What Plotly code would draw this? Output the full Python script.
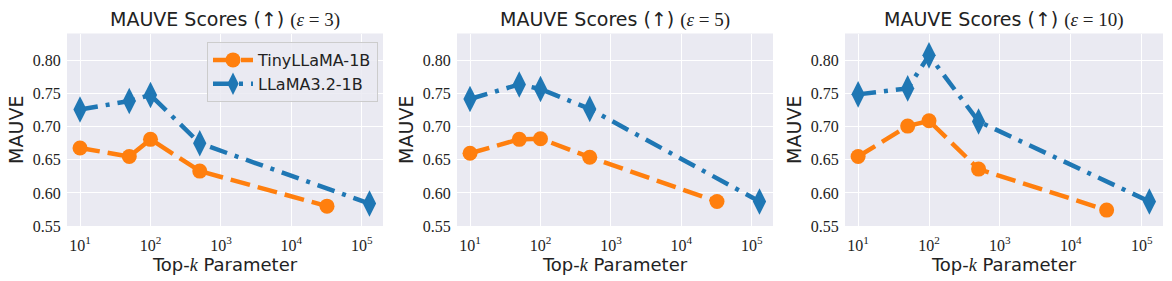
import plotly.graph_objects as go

# ---- data ----
eps_values = [3, 5, 10]
k_tiny = [10, 50, 100, 500, 32000]
k_llama = [10, 50, 100, 500, 128256]

tiny_eps3 = [0.668, 0.655, 0.681, 0.633, 0.580]
llama_eps3 = [0.726, 0.739, 0.748, 0.675, 0.584]
tiny_eps5 = [0.660, 0.681, 0.682, 0.654, 0.587]
llama_eps5 = [0.742, 0.764, 0.757, 0.727, 0.587]
tiny_eps10 = [0.655, 0.701, 0.709, 0.636, 0.574]
llama_eps10 = [0.749, 0.758, 0.808, 0.708, 0.587]

tiny_series = [tiny_eps3, tiny_eps5, tiny_eps10]
llama_series = [llama_eps3, llama_eps5, llama_eps10]

xtick_vals = [10, 100, 1000, 10000, 100000]
xtick_text = ["10<sup>1</sup>", "10<sup>2</sup>", "10<sup>3</sup>", "10<sup>4</sup>", "10<sup>5</sup>"]
ytick_vals = [0.55, 0.60, 0.65, 0.70, 0.75, 0.80]

# ---- style ----
W, H = 1172, 281
ORANGE = "#ff7f0e"
BLUE = "#1f77b4"
BG = "#eaeaf2"
SANS = "DejaVu Sans"
SERIF = "Liberation Serif"

x_px = [(67, 383), (457, 773), (845, 1163)]
y_dom = [(H - 226) / H, (H - 33.5) / H]

fig = go.Figure()
annotations = []
for i in range(3):
    n = "" if i == 0 else str(i + 1)
    fig.add_trace(go.Scatter(
        x=k_tiny, y=tiny_series[i], mode="lines+markers",
        name="TinyLLaMA-1B", legendgroup="tiny", showlegend=(i == 0),
        line=dict(color=ORANGE, width=4.5, dash="20px,8px"),
        marker=dict(symbol="circle", size=15, color=ORANGE),
        xaxis="x" + n, yaxis="y" + n,
    ))
    fig.add_trace(go.Scatter(
        x=k_llama, y=llama_series[i], mode="lines+markers",
        name="LLaMA3.2-1B", legendgroup="llama", showlegend=(i == 0),
        line=dict(color=BLUE, width=4.5, dash="18px,8px,4px,8px"),
        marker=dict(symbol="diamond-tall", size=19, color=BLUE),
        xaxis="x" + n, yaxis="y" + n,
    ))
    x0, x1 = x_px[i]
    fig.update_layout(**{
        "xaxis" + n: dict(
            domain=[x0 / W, x1 / W], type="log", range=[0.815, 5.30],
            tickvals=xtick_vals, ticktext=xtick_text,
            tickfont=dict(family=SERIF, size=16, color="#222"),
            showgrid=True, gridcolor="white", gridwidth=1.3,
            zeroline=False, showline=False, ticks="outside", ticklen=5,
            tickcolor="rgba(0,0,0,0)",
            automargin=False, anchor="y" + n,
            title=dict(text="Top-<i><span style='font-family:Liberation Serif'>k</span></i> Parameter",
                       font=dict(family=SANS, size=18, color="#222"), standoff=0),
        ),
        "yaxis" + n: dict(
            domain=list(y_dom), range=[0.55, 0.841],
            tickvals=ytick_vals, tickformat=".2f",
            tickfont=dict(family=SERIF, size=16, color="#222"),
            showgrid=True, gridcolor="white", gridwidth=1.3,
            zeroline=False, showline=False, ticks="outside", ticklen=2,
            tickcolor="rgba(0,0,0,0)",
            automargin=False, anchor="x" + n,
            title=dict(text="MAUVE", font=dict(family=SANS, size=19, color="#222"), standoff=4),
        ),
    })
    annotations.append(dict(
        text="MAUVE Scores (↑) <span style='font-family:Liberation Serif'>(<i>ε</i> = %d)</span>" % eps_values[i],
        x=(x0 + x1) / 2 / W, y=(H - 20) / H, xref="paper", yref="paper",
        xanchor="center", yanchor="middle", showarrow=False,
        font=dict(family=SANS, size=19, color="#222"),
    ))

fig.update_layout(
    width=W, height=H,
    margin=dict(l=0, r=0, t=0, b=0),
    paper_bgcolor="white", plot_bgcolor=BG,
    annotations=annotations,
    showlegend=True,
    legend=dict(
        x=207 / W, y=(H - 42) / H, xanchor="left", yanchor="top",
        bgcolor="rgba(234,234,242,0.85)", bordercolor="#cccccc", borderwidth=1,
        font=dict(family=SANS, size=16, color="#222"),
        itemwidth=40, tracegroupgap=0,
    ),
)

fig.write_html(
    "out.html",
    config={"displayModeBar": False},
    post_script="document.body.style.margin='0';document.body.style.overflow='hidden';",
)
